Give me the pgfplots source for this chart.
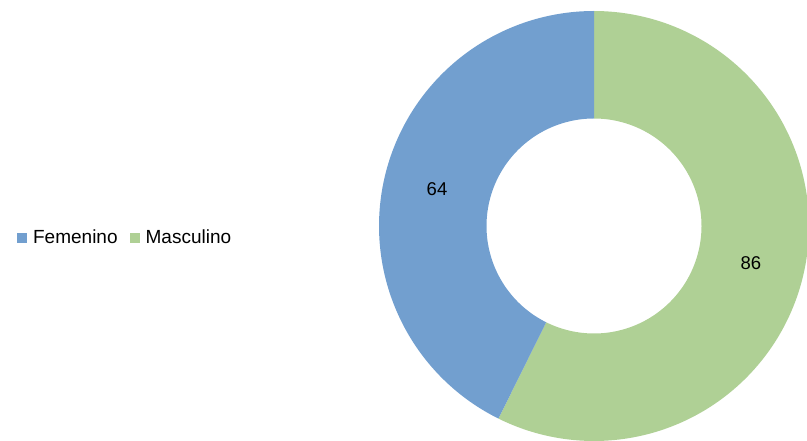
\documentclass[border=0pt]{standalone}
\usepackage{pgfplots}
\pgfplotsset{compat=1.18}
\usepackage{pgfplotstable}
\usepgfplotslibrary{fillbetween}
\usepackage{fontspec}
\setmainfont{Liberation Sans}
\definecolor{fem}{HTML}{729FCF}
\definecolor{mas}{HTML}{AFD095}
\pgfplotstableread{
genero valor
Femenino 64
Masculino 86
}\datos
\pgfplotstablegetelem{0}{valor}\of\datos \let\vF\pgfplotsretval
\pgfplotstablegetelem{1}{valor}\of\datos \let\vM\pgfplotsretval
\pgfmathsetmacro\tot{\vF+\vM}
\pgfmathsetmacro\fracM{\vM/\tot}
\pgfmathsetmacro\aM{90-360*\fracM}
\pgfmathsetmacro\aF{\aM+360}
\pgfmathsetmacro\mM{(90+\aM)/2}
\pgfmathsetmacro\mF{(90+\aF)/2}
\begin{document}
\begin{tikzpicture}[font=\fontsize{18.5bp}{22bp}\selectfont]
\begin{axis}[
  at={(594bp,215bp)}, anchor=center,
  scale only axis, width=430bp, height=430bp,
  xmin=-1, xmax=1, ymin=-1, ymax=1,
  hide axis, clip=false,
  legend style={at={(-0.842,0.473)}, anchor=west, draw=none, fill=none,
    inner sep=0pt, legend columns=2,
    font=\fontsize{19bp}{22bp}\selectfont,
    /tikz/every odd column/.style={column sep=4bp},
    /tikz/every even column/.style={column sep=10bp}},
  legend image code/.code={\fill[#1, draw=none] (0bp,-5bp) rectangle (10bp,5bp);},
]
\addlegendimage{fill=fem}
\addlegendentry{Femenino}
\addlegendimage{fill=mas}
\addlegendentry{Masculino}
% Masculino sector
\addplot[name path=Mo, draw=none, domain=\aM:90, samples=150, forget plot] ({cos(x)},{sin(x)});
\addplot[name path=Mi, draw=none, domain=\aM:90, samples=150, forget plot] ({0.5*cos(x)},{0.5*sin(x)});
\addplot[fill=mas, draw=none, forget plot] fill between[of=Mo and Mi];
% Femenino sector
\addplot[name path=Fo, draw=none, domain=90:\aF, samples=150, forget plot] ({cos(x)},{sin(x)});
\addplot[name path=Fi, draw=none, domain=90:\aF, samples=150, forget plot] ({0.5*cos(x)},{0.5*sin(x)});
\addplot[fill=fem, draw=none, forget plot] fill between[of=Fo and Fi];
% data labels
\node at (axis cs:{0.75*cos(\mF)},{0.75*sin(\mF)}) {\vF};
\node at (axis cs:{0.75*cos(\mM)},{0.75*sin(\mM)}) {\vM};
\end{axis}
\pgfresetboundingbox
\path[use as bounding box] (0,0) rectangle (807bp,441bp);
\end{tikzpicture}
\end{document}
